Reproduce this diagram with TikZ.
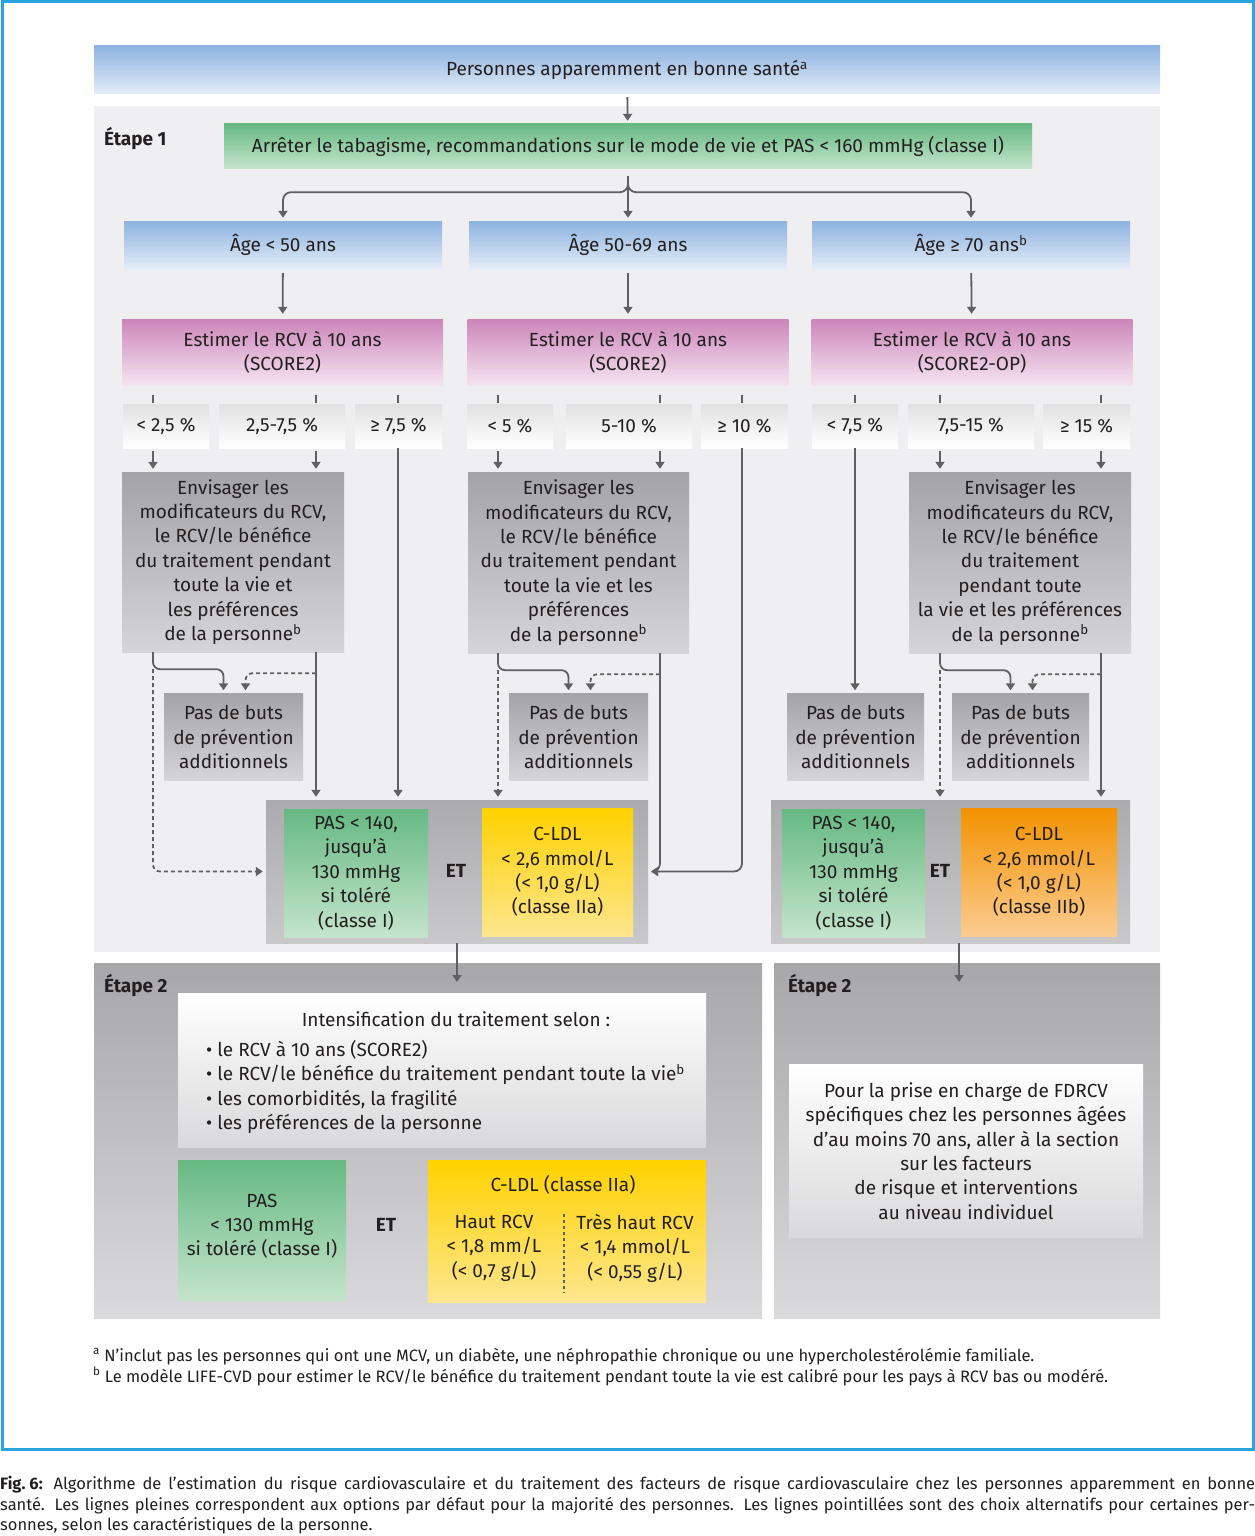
\documentclass[tikz,border=0pt]{standalone}
\usepackage{fontspec}
\setmainfont{Fira Sans}
\usetikzlibrary{arrows.meta}

\definecolor{frameblue}{HTML}{2AA4DE}
\definecolor{blueTop}{HTML}{8DB3E0}
\definecolor{blueBot}{HTML}{E4ECF8}
\definecolor{greenTop}{HTML}{66B983}
\definecolor{greenBot}{HTML}{C4E4CB}
\definecolor{pinkTop}{HTML}{CC86BA}
\definecolor{pinkBot}{HTML}{F5E4F0}
\definecolor{riskTop}{HTML}{E1E1E2}
\definecolor{greyTop}{HTML}{A4A4A6}
\definecolor{greyBot}{HTML}{D5D5D7}
\definecolor{panelTop}{HTML}{ABABAD}
\definecolor{panelBot}{HTML}{C9C9CB}
\definecolor{stageone}{HTML}{EFEFF1}
\definecolor{stageTop}{HTML}{A7A7A9}
\definecolor{stageBot}{HTML}{DADADC}
\definecolor{whiteBot}{HTML}{D9D9DB}
\definecolor{yellowTop}{HTML}{FFD200}
\definecolor{yellowBot}{HTML}{FDE68E}
\definecolor{orangeTop}{HTML}{F39200}
\definecolor{orangeBot}{HTML}{FBCC90}
\definecolor{linegrey}{HTML}{606062}
\definecolor{inkgrey}{HTML}{231F20}

\newcommand\diagfont{\fontsize{19}{24.4}\selectfont}
\newcommand\notefont{\fontsize{16.5}{20.6}\selectfont}

\tikzset{
  wh/.style 2 args={minimum width=#1pt, minimum height=#2pt},
  box/.style={inner sep=0pt, align=center, text=inkgrey, font=\diagfont},
  bluebox/.style={box, top color=blueTop, bottom color=blueBot},
  greenbox/.style={box, top color=greenTop, bottom color=greenBot},
  pinkbox/.style={box, top color=pinkTop, bottom color=pinkBot},
  riskbox/.style={box, top color=riskTop, bottom color=white},
  greybox/.style={box, top color=greyTop, bottom color=greyBot},
  panel/.style={box, top color=panelTop, bottom color=panelBot},
  yellowbox/.style={box, top color=yellowTop, bottom color=yellowBot},
  orangebox/.style={box, top color=orangeTop, bottom color=orangeBot},
  whitebox/.style={box, top color=white, bottom color=whiteBot},
  stagebox/.style={box, top color=stageTop, bottom color=stageBot},
  steplabel/.style={inner sep=0pt, anchor=west, text=inkgrey, font=\bfseries\fontsize{19}{22}\selectfont},
  etlabel/.style={inner sep=0pt, text=inkgrey, font=\bfseries\diagfont},
  plain/.style={inner sep=0pt, text=inkgrey, font=\diagfont},
  stub/.style={draw=linegrey, line width=1.8pt},
  arr/.style={draw=linegrey, line width=1.8pt, -{Triangle[length=7pt,width=9pt]},
    shorten >=3pt, shorten <=3pt},
  darr/.style={arr, dash pattern=on 4pt off 3pt}
}

\begin{document}
\begin{tikzpicture}[x=1pt,y=-1pt]
  \useasboundingbox (0,0) rectangle (1255,1536);
  \fill[white] (0,0) rectangle (1255,1536);

  % panels
  \node[fill=stageone, wh={1066}{846}, inner sep=0pt] (stage1) at (627,529) {};
  \node[stagebox, wh={668}{355}] (stage2L) at (428,1140.5) {};
  \node[stagebox, wh={386}{355}] (stage2R) at (967,1140.5) {};

  \node[steplabel] (lab1) at (104,139) {Étape 1};
  \node[steplabel] (lab2L) at (104,986) {Étape 2};
  \node[steplabel] (lab2R) at (788,986) {Étape 2};

  % top
  \node[bluebox, wh={1066}{48}] (top) at (627,70) {Personnes apparemment en bonne santé\textsuperscript{a}};
  \node[greenbox, wh={808}{44}] (green1) at (628,146)
    {Arrêter le tabagisme, recommandations sur le mode de vie et PAS < 160 mmHg (classe I)};

  % age groups
  \node[bluebox, wh={318}{48}] (age1) at (283,245) {Âge < 50 ans};
  \node[bluebox, wh={318}{48}] (age2) at (628,245) {Âge 50-69 ans};
  \node[bluebox, wh={318}{48}] (age3) at (971,245) {Âge ≥ 70 ans\textsuperscript{b}};

  \node[pinkbox, wh={321}{66}] (est1) at (282.5,352) {Estimer le RCV à 10 ans\\(SCORE2)};
  \node[pinkbox, wh={321}{66}] (est2) at (628,352) {Estimer le RCV à 10 ans\\(SCORE2)};
  \node[pinkbox, wh={321}{66}] (est3) at (972,352) {Estimer le RCV à 10 ans\\(SCORE2-OP)};

  % risk classes
  \node[riskbox, wh={86}{44}] (r11) at (166,426) {< 2,5 \%};
  \node[riskbox, wh={126}{44}] (r12) at (282,426) {2,5-7,5 \%};
  \node[riskbox, wh={87}{44}] (r13) at (398.5,426) {≥ 7,5 \%};
  \node[riskbox, wh={86}{44}] (r21) at (510,426) {< 5 \%};
  \node[riskbox, wh={126}{44}] (r22) at (629,426) {5-10 \%};
  \node[riskbox, wh={87}{44}] (r23) at (744.5,426) {≥ 10 \%};
  \node[riskbox, wh={86}{44}] (r31) at (855,426) {< 7,5 \%};
  \node[riskbox, wh={126}{44}] (r32) at (971,426) {7,5-15 \%};
  \node[riskbox, wh={87}{44}] (r33) at (1086.5,426) {≥ 15 \%};

  \node[greybox, wh={222}{180}] (env1) at (233,562)
    {Envisager les\\modificateurs du RCV,\\le RCV/le bénéfice\\du traitement pendant\\toute la vie et\\les préférences\\de la personne\textsuperscript{b}};
  \node[greybox, wh={221}{181}] (env2) at (578.5,562.5)
    {Envisager les\\modificateurs du RCV,\\le RCV/le bénéfice\\du traitement pendant\\toute la vie et les\\préférences\\de la personne\textsuperscript{b}};
  \node[greybox, wh={222}{181}] (env3) at (1020,562.5)
    {Envisager les\\modificateurs du RCV,\\le RCV/le bénéfice\\du traitement\\pendant toute\\la vie et les préférences\\de la personne\textsuperscript{b}};

  \node[greybox, wh={139}{87}] (p1) at (233.5,737) {Pas de buts\\de prévention\\additionnels};
  \node[greybox, wh={139}{87}] (p2) at (578.5,737) {Pas de buts\\de prévention\\additionnels};
  \node[greybox, wh={137}{87}] (p3) at (855.5,737) {Pas de buts\\de prévention\\additionnels};
  \node[greybox, wh={137}{87}] (p4) at (1020.5,737) {Pas de buts\\de prévention\\additionnels};

  % targets, step 1
  \node[panel, wh={382}{143}] (panelL) at (457,871.5) {};
  \node[greenbox, wh={144}{128}] (gL) at (356,873) {PAS < 140,\\jusqu’à\\130 mmHg\\si toléré\\(classe I)};
  \node[etlabel] (etL) at (456,871) {ET};
  \node[yellowbox, wh={151}{128}] (yL) at (557.5,872) {C-LDL\\< 2,6 mmol/L\\(< 1,0 g/L)\\(classe IIa)};
  \node[panel, wh={359}{143}] (panelR) at (950.5,871.5) {};
  \node[greenbox, wh={143}{128}] (gR) at (853.5,873) {PAS < 140,\\jusqu’à\\130 mmHg\\si toléré\\(classe I)};
  \node[etlabel] (etR) at (940,871) {ET};
  \node[orangebox, wh={156}{128}] (oR) at (1039,872) {C-LDL\\< 2,6 mmol/L\\(< 1,0 g/L)\\(classe IIb)};

  % step 2
  \node[whitebox, wh={528}{154}] (intens) at (442,1070) {};
  \node[plain] (intensT) at (456,1019) {Intensification du traitement selon :};
  \node[plain, anchor=north west, align=left] (intensL) at (206,1040)
    {• le RCV à 10 ans (SCORE2)\\• le RCV/le bénéfice du traitement pendant toute la vie\textsuperscript{b}\\• les comorbidités, la fragilité\\• les préférences de la personne};
  \node[greenbox, wh={168}{140}] (pas2) at (262,1230) {PAS\\< 130 mmHg\\si toléré (classe I)\\[-14pt]};
  \node[etlabel] (et2) at (386,1225) {ET};
  \node[yellowbox, wh={278}{142}] (ldl2) at (567,1231) {};
  \node[plain] (ldlT) at (563,1185) {C-LDL (classe IIa)};
  \node[plain, align=center] (ldlH) at (494,1248) {Haut RCV\\< 1,8 mm/L\\(< 0,7 g/L)};
  \node[plain, align=center] (ldlTH) at (635,1248) {Très haut RCV\\< 1,4 mmol/L\\(< 0,55 g/L)};
  \draw[linegrey, line width=1.2pt, dash pattern=on 3pt off 3pt]
    ([yshift=-54pt,xshift=-3pt]ldl2.north) -- ([yshift=10pt,xshift=-3pt]ldl2.south);

  \node[whitebox, wh={354}{173}] (white2) at (966,1151)
    {Pour la prise en charge de FDRCV\\spécifiques chez les personnes âgées\\d’au moins 70 ans, aller à la section\\sur les facteurs\\de risque et interventions\\au niveau individuel};

  % connector lines
  \foreach \n/\x in {c11/153, c12/316, c13/398, c21/498, c22/660, c23/742, c31/855, c32/940, c33/1101}
    \coordinate (\n) at (\x,0);
  \coordinate (s2L) at (457,982);
  \coordinate (s2R) at (959,982);

  \draw[arr] (top) -- (green1);
  \draw[arr, shorten <=8pt, rounded corners=8pt] (green1.south) -- ++(0,24) -| (age1.north);
  \draw[arr, shorten <=8pt, rounded corners=8pt] (green1.south) -- ++(0,24) -| (age3.north);
  \draw[arr, shorten <=8pt] (green1.south) -- (age2.north);

  \foreach \a/\e in {age1/est1, age2/est2, age3/est3}
    \draw[arr, shorten <=4pt, shorten >=5pt] (\a) -- (\e);

  \foreach \c/\e in {c11/est1, c12/est1, c13/est1, c21/est2, c22/est2, c23/est2, c31/est3, c32/est3, c33/est3}
    \draw[stub] (\c |- \e.south) ++(0,10) -- ++(0,8);

  \foreach \c/\r/\t in {c11/r11/env1, c12/r12/env1, c21/r21/env2, c22/r22/env2, c32/r32/env3, c33/r33/env3}
    \draw[arr] (\c |- \r.south) -- (\c |- \t.north);
  \draw[arr, shorten <=0pt] (c13 |- r13.south) -- (c13 |- panelL.north);
  \draw[arr, shorten <=0pt, rounded corners=8pt] (c23 |- r23.south) |- (panelL.east);
  \draw[arr, shorten <=0pt] (c31 |- r31.south) -- (c31 |- p3.north);

  % from the grey boxes
  \foreach \l/\r/\e/\p in {c11/c12/env1/p1, c21/c22/env2/p2, c32/c33/env3/p4} {
    \draw[arr, shorten <=0pt, rounded corners=7pt] (\l |- \e.south) -- ++(0,17) -| ([xshift=-10pt]\p.north);
    \draw[darr, shorten <=0pt, rounded corners=7pt] (\r |- \e.south) ++(0,21) -| ([xshift=12pt]\p.north);
  }
  \draw[darr, shorten <=0pt, rounded corners=7pt] (c11 |- env1.south) ++(0,17) |- (panelL.west);
  \draw[arr, shorten <=0pt] (c12 |- env1.south) -- (c12 |- panelL.north);
  \draw[darr, shorten <=0pt] (c21 |- env2.south) ++(0,17) -- (c21 |- panelL.north);
  \draw[arr, shorten <=0pt, rounded corners=8pt] (c22 |- env2.south) |- (panelL.east);
  \draw[darr, shorten <=0pt] (c32 |- env3.south) ++(0,17) -- (c32 |- panelR.north);
  \draw[arr, shorten <=0pt] (c33 |- env3.south) -- (c33 |- panelR.north);

  \draw[arr, shorten <=0pt, shorten >=0pt] (s2L |- panelL.south) -- (s2L);
  \draw[arr, shorten <=0pt, shorten >=0pt] (s2R |- panelR.south) -- (s2R);

  % notes and frame
  \node[inner sep=0pt, anchor=base west, text=inkgrey, font=\notefont] (fna) at (93,1361)
    {\textsuperscript{a} N’inclut pas les personnes qui ont une MCV, un diabète, une néphropathie chronique ou une hypercholestérolémie familiale.};
  \node[inner sep=0pt, anchor=base west, text=inkgrey, font=\notefont] (fnb) at (93,1382)
    {\textsuperscript{b} Le modèle LIFE-CVD pour estimer le RCV/le bénéfice du traitement pendant toute la vie est calibré pour les pays à RCV bas ou modéré.};
  \draw[frameblue, line width=3pt] (2,2) rectangle (1253,1449);

  \node[inner sep=0pt, anchor=north west, align=left, text=inkgrey, font=\notefont] (caption) at (0,1476)
    {\makebox[1255pt][s]{\textbf{Fig.\kern4pt6:} Algorithme de l’estimation du risque cardiovasculaire et du traitement des facteurs de risque cardiovasculaire chez les personnes apparemment en bonne}\\
     \makebox[1255pt][s]{santé. Les lignes pleines correspondent aux options par défaut pour la majorité des personnes. Les lignes pointillées sont des choix alternatifs pour certaines per-}\\
     sonnes, selon les caractéristiques de la personne.};
\end{tikzpicture}
\end{document}
